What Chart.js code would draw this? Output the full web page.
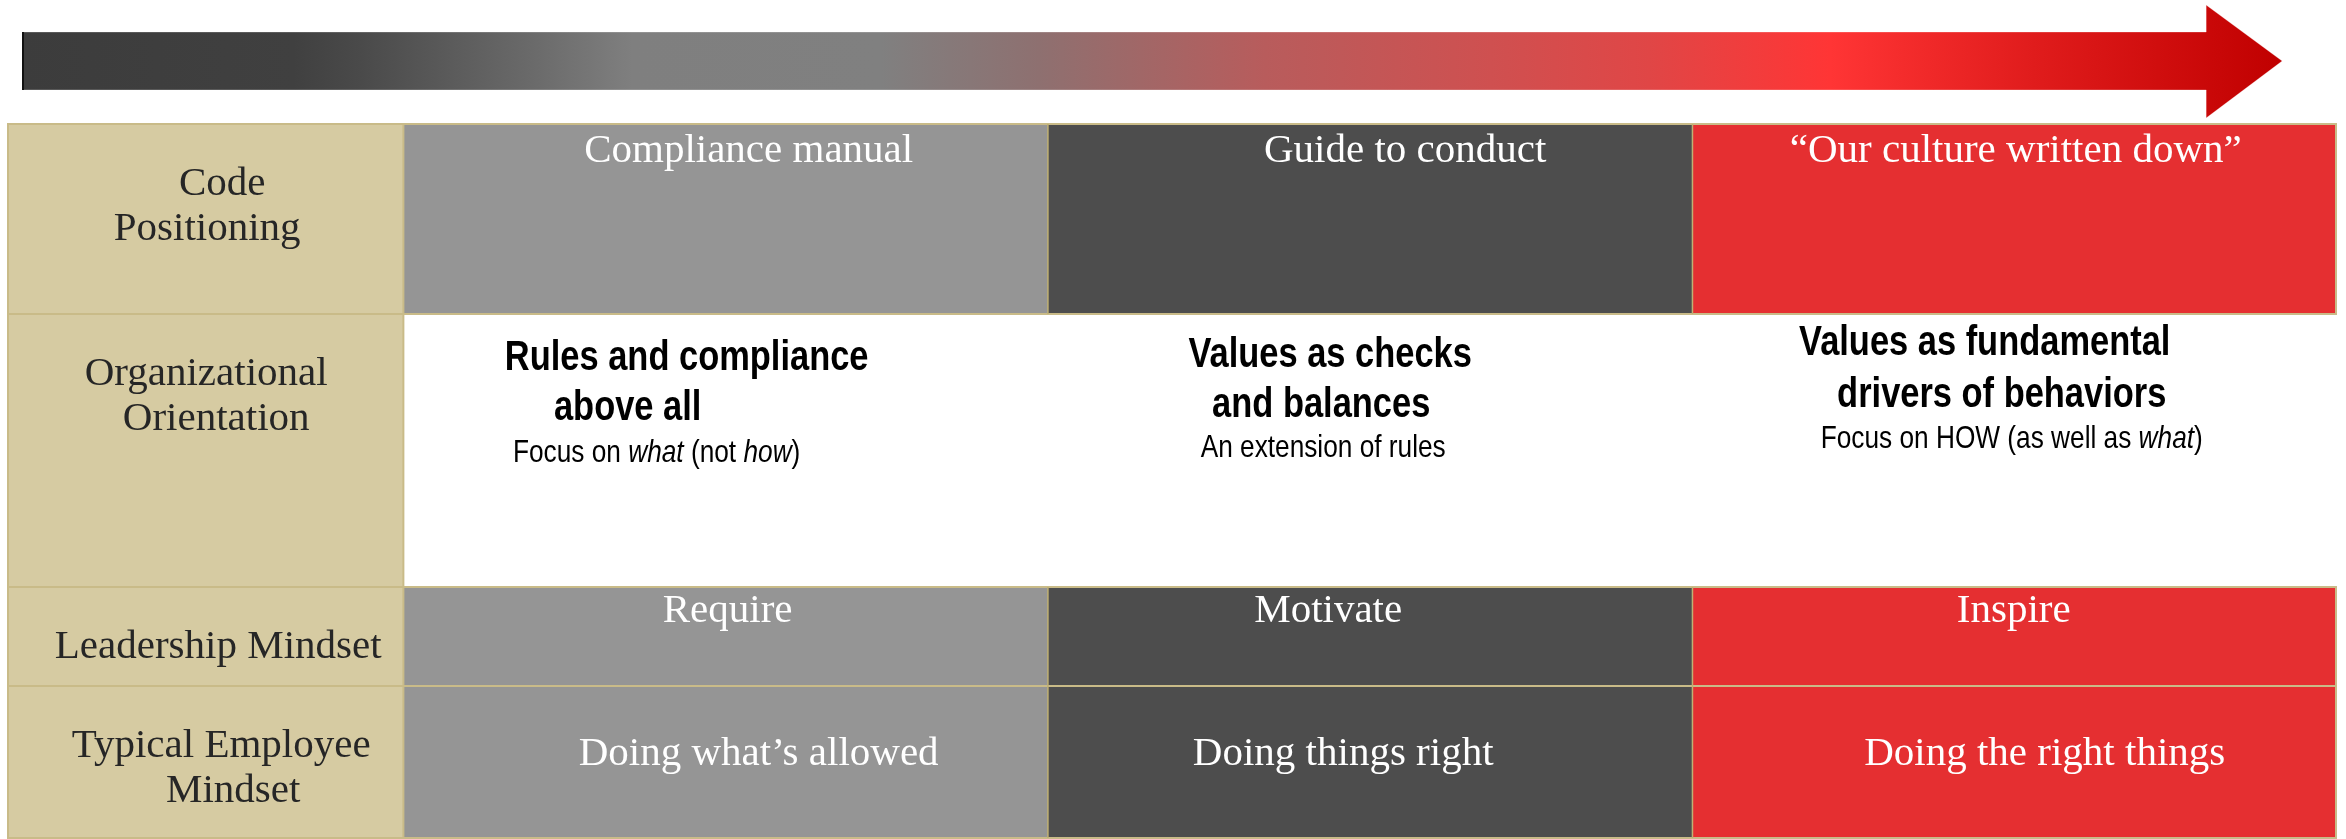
<!DOCTYPE html>
<html>
<head>
<meta charset="utf-8">
<script src="https://cdn.jsdelivr.net/npm/chart.js@4.4.0/dist/chart.umd.min.js"></script>
<style>
  html, body { margin: 0; padding: 0; background: #ffffff; }
  canvas { display: block; }
</style>
</head>
<body>
<canvas id="c" width="2346" height="839" style="width:2346px;height:839px"></canvas>
<script>
// ---------------- DATA ----------------
const stages = ['Compliance manual', 'Guide to conduct', '\u201cOur culture written down\u201d'];
const rowLabels = [['Code', 'Positioning'], ['Organizational', 'Orientation'], ['Leadership Mindset'], ['Typical Employee', 'Mindset']];
const orientationTitles = [['Rules and compliance', 'above all'], ['Values as checks', 'and balances'], ['Values as fundamental', 'drivers of behaviors']];
const orientationNotes = [
  [['Focus on ', 0], ['what', 1], [' (not ', 0], ['how', 1], [')', 0]],
  [['An extension of rules', 0]],
  [['Focus on HOW (as well as ', 0], ['what', 1], [')', 0]]
];
const leadership = ['Require', 'Motivate', 'Inspire'];
const employee = ['Doing what\u2019s allowed', 'Doing things right', 'Doing the right things'];

// ---------------- LAYOUT / STYLE ----------------
const rowSpans = [190, 273, 99, 152];
const labelColUnits = 0.615;
const stageColors = ['#959595', '#4d4d4d', '#e52f31'];
const gold = '#d6cba2';
const goldLine = '#c9bb88';
const cellLine = '#bfb073';
const serif = '"Liberation Serif", "Times New Roman", serif';
const sans = '"Liberation Sans", Arial, sans-serif';
const narrow = 0.82;

const headerDx = [23, 35, 1];
const labelDx = [[17, 2], [1, 11], [13], [16, 28]];
const titleDx = [[-39, -98], [-40, -49], [-30, -13]];
const titleBase = [[56, 106], [53, 103], [41, 93]];
const noteDx = [-69, -47, -3];
const noteBase = [148, 143, 134];
const leadDx = [2, -42, -1];
const empDx = [33, -27, 30];

function drawSegments(ctx, segs, cx, base, size, weight, color, sx) {
  ctx.save();
  ctx.fillStyle = color;
  ctx.textBaseline = 'alphabetic';
  ctx.textAlign = 'left';
  const fontFor = it => (it ? 'italic ' : '') + weight + ' ' + size + 'px ' + sans;
  let total = 0;
  segs.forEach(s => { ctx.font = fontFor(s[1]); total += ctx.measureText(s[0]).width; });
  ctx.translate(cx - total * sx / 2, base);
  ctx.scale(sx, 1);
  let xx = 0;
  segs.forEach(s => { ctx.font = fontFor(s[1]); ctx.fillText(s[0], xx, 0); xx += ctx.measureText(s[0]).width; });
  ctx.restore();
}
function drawSerif(ctx, str, cx, base, color) {
  ctx.save();
  ctx.font = '41px ' + serif;
  ctx.fillStyle = color;
  ctx.textAlign = 'center';
  ctx.textBaseline = 'alphabetic';
  ctx.fillText(str, cx, base);
  ctx.restore();
}

const tablePlugin = {
  id: 'tableDiagram',
  afterDraw(chart) {
    const ctx = chart.ctx;
    const xs = chart.scales.x, ys = chart.scales.y;
    const px = v => xs.getPixelForValue(v);
    const py = v => ys.getPixelForValue(v);
    const edges = [0];
    rowSpans.forEach(h => edges.push(edges[edges.length - 1] + h));
    const top = r => py(edges[r]);
    const bot = r => py(edges[r + 1]);
    const L = px(-labelColUnits), R = px(3);

    // ---- arrow ----
    const area = chart.chartArea;
    const ax0 = L + 15, ax1 = px(2.797), tip = px(2.915);
    const ay0 = 32, ay1 = 90, hy0 = 5, hy1 = 118, my = (ay0 + ay1) / 2;
    const g = ctx.createLinearGradient(ax0, 0, tip, 0);
    [[0, '#3c3c3c'], [0.12, '#404040'], [0.15, '#4a4a4a'], [0.23, '#6c6c6c'], [0.27, '#7f7f7f'],
     [0.38, '#808080'], [0.45, '#8e7070'], [0.55, '#b85c5c'], [0.65, '#cf5050'], [0.72, '#e04646'],
     [0.80, '#ff3535'], [0.89, '#e01c1c'], [1, '#c00000']].forEach(s => g.addColorStop(s[0], s[1]));
    ctx.save();
    ctx.beginPath();
    ctx.moveTo(ax0, ay0); ctx.lineTo(ax1, ay0); ctx.lineTo(ax1, hy0); ctx.lineTo(tip, my);
    ctx.lineTo(ax1, hy1); ctx.lineTo(ax1, ay1); ctx.lineTo(ax0, ay1); ctx.closePath();
    ctx.fillStyle = g; ctx.fill();
    ctx.strokeStyle = 'rgba(255,255,255,0.3)'; ctx.lineWidth = 1; ctx.stroke();
    ctx.fillStyle = '#111'; ctx.fillRect(ax0, ay0, 2, ay1 - ay0);
    ctx.restore();

    // ---- cells ----
    ctx.save();
    for (let r = 0; r < rowSpans.length; r++) {
      ctx.fillStyle = gold;
      ctx.fillRect(L, top(r), px(0) - L, bot(r) - top(r));
      if (r === 1) continue;
      for (let c = 0; c < 3; c++) {
        ctx.fillStyle = stageColors[c];
        ctx.fillRect(px(c), top(r), px(c + 1) - px(c), bot(r) - top(r));
      }
    }
    // lines
    ctx.lineWidth = 2;
    ctx.strokeStyle = goldLine;
    for (let r = 0; r <= rowSpans.length; r++) {
      ctx.beginPath(); ctx.moveTo(L, py(edges[r])); ctx.lineTo(R, py(edges[r])); ctx.stroke();
    }
    ctx.beginPath(); ctx.moveTo(L + 1, top(0)); ctx.lineTo(L + 1, bot(3)); ctx.stroke();
    ctx.beginPath(); ctx.moveTo(px(0), top(0)); ctx.lineTo(px(0), bot(3)); ctx.stroke();
    ctx.beginPath(); ctx.moveTo(R - 1, top(0)); ctx.lineTo(R - 1, bot(0)); ctx.stroke();
    ctx.beginPath(); ctx.moveTo(R - 1, top(2)); ctx.lineTo(R - 1, bot(3)); ctx.stroke();
    ctx.strokeStyle = cellLine; ctx.lineWidth = 1.5;
    [1, 2].forEach(c => {
      [0, 2, 3].forEach(r => {
        ctx.beginPath(); ctx.moveTo(px(c), top(r)); ctx.lineTo(px(c), bot(r)); ctx.stroke();
      });
    });
    ctx.restore();

    // ---- texts ----
    const labelCx = px(-labelColUnits / 2);
    rowLabels.forEach((lines, r) => {
      lines.forEach((t, i) => drawSerif(ctx, t, labelCx + labelDx[r][i], top(r) + 71 + i * 45, '#262626'));
    });
    for (let c = 0; c < 3; c++) {
      const cx = px(c + 0.5);
      drawSerif(ctx, stages[c], cx + headerDx[c], top(0) + 38, '#ffffff');
      orientationTitles[c].forEach((t, i) =>
        drawSegments(ctx, [[t, 0]], cx + titleDx[c][i], top(1) + titleBase[c][i], 42, 'bold', '#000000', narrow));
      drawSegments(ctx, orientationNotes[c], cx + noteDx[c], top(1) + noteBase[c], 32, 'normal', '#000000', narrow);
      drawSerif(ctx, leadership[c], cx + leadDx[c], top(2) + 35, '#ffffff');
      drawSerif(ctx, employee[c], cx + empDx[c], top(3) + 79, '#ffffff');
    }
  }
};

const totalRows = rowSpans.reduce((a, b) => a + b, 0);
new Chart(document.getElementById('c'), {
  type: 'scatter',
  data: { datasets: [{ data: [], showLine: false }] },
  options: {
    responsive: false,
    devicePixelRatio: 1,
    animation: false,
    layout: { padding: { left: 7, right: 9, top: 124, bottom: 1 } },
    plugins: { legend: { display: false }, tooltip: { enabled: false } },
    scales: {
      x: { type: 'linear', min: -labelColUnits, max: 3, display: false },
      y: { type: 'linear', min: 0, max: totalRows, reverse: true, display: false }
    }
  },
  plugins: [tablePlugin]
});
</script>
</body>
</html>
